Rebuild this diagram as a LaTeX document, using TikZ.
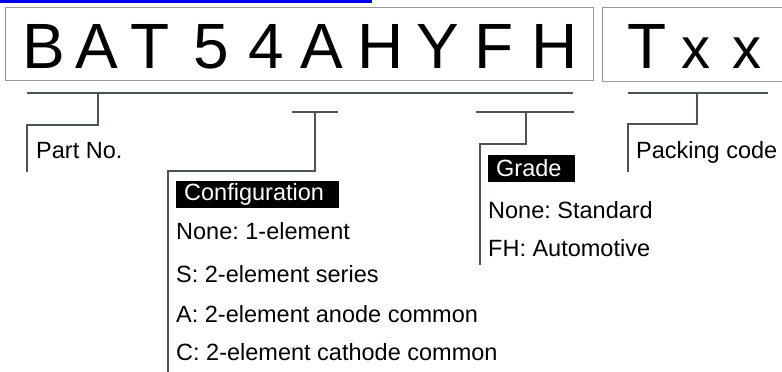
\documentclass[tikz,border=0pt]{standalone}
\usepackage{fontspec}
\setmainfont{Liberation Sans}
\usepackage{xcolor}
\usetikzlibrary{positioning,calc}
\frenchspacing

\definecolor{linegray}{HTML}{4B545C}
\definecolor{boxgray}{HTML}{9A9A9A}
\definecolor{linkblue}{HTML}{0000EE}

\tikzset{
	bracket/.style={draw=linegray, line width=2pt},
	codebox/.style={draw=boxgray, line width=1pt},
	bigchar/.style={inner sep=0pt, anchor=base, font=\fontsize{64}{64}\selectfont},
	smallchar/.style={inner sep=0pt, anchor=base, font=\fontsize{58}{58}\selectfont},
	item/.style={inner sep=0pt, anchor=base west, font=\fontsize{23.5}{26}\selectfont},
	tag/.style={fill=black, text=white, anchor=west, inner xsep=8pt, inner ysep=0pt,
		minimum height=27pt, align=left, font=\fontsize{23.5}{26}\selectfont},
}

\begin{document}
\begin{tikzpicture}[x=1pt,y=-1pt]
	\useasboundingbox (0,0) rectangle (782,372);
	\fill[linkblue] (0,0) rectangle (372,2.5);
	
	% code boxes
	\draw[codebox] (5,7) rectangle (593,80);
	\draw[codebox] (602,7) rectangle (790,81);
	\foreach \ch/\xx in {B/44, A/97, T/150, 5/211, 4/266, A/322, H/381, Y/438, F/494, H/555}
		\node[bigchar] (c\xx) at (\xx,68) {\ch};
	\node[bigchar] (pkT) at (647,68) {T};
	\node[smallchar] (pkx1) at (696,68) {x};
	\node[smallchar] (pkx2) at (747,68) {x};
	
	% part number
	\coordinate (pnL) at (27,93);
	\coordinate (pnR) at (573,93);
	\draw[bracket] (pnL) -- (pnR);
	\draw[bracket] (98,93) |- (27,125) -- (27,172);
	\node[item] (partno) at (36,158) {Part No.};
	
	% configuration
	\draw[bracket] (292,112) -- (338,112);
	\draw[bracket] (315,112) |- (168,171) -- (168,372);
	\node[tag, text width=147pt] (config) at (176,194.5) {Configuration};
	\node[item] (cfg1) at (176,239) {None: 1-element};
	\node[item] (cfg2) at (176,282) {S: 2-element series};
	\node[item] (cfg3) at (176,322) {A: 2-element anode common};
	\node[item] (cfg4) at (176,360) {C: 2-element cathode common};
	
	% grade
	\draw[bracket] (476,112) -- (574,112);
	\draw[bracket] (526,112) |- (480,144) -- (480,265);
	\node[tag, text width=71pt] (grade) at (488,168.5) {Grade};
	\node[item] (grd1) at (488,218) {None: Standard};
	\node[item] (grd2) at (488,256) {FH: Automotive};
	
	% packing
	\draw[bracket] (628,93) -- (768,93);
	\draw[bracket] (697,93) |- (628,124) -- (628,172);
	\node[item] (packing) at (636,158) {Packing code};
\end{tikzpicture}
\end{document}
